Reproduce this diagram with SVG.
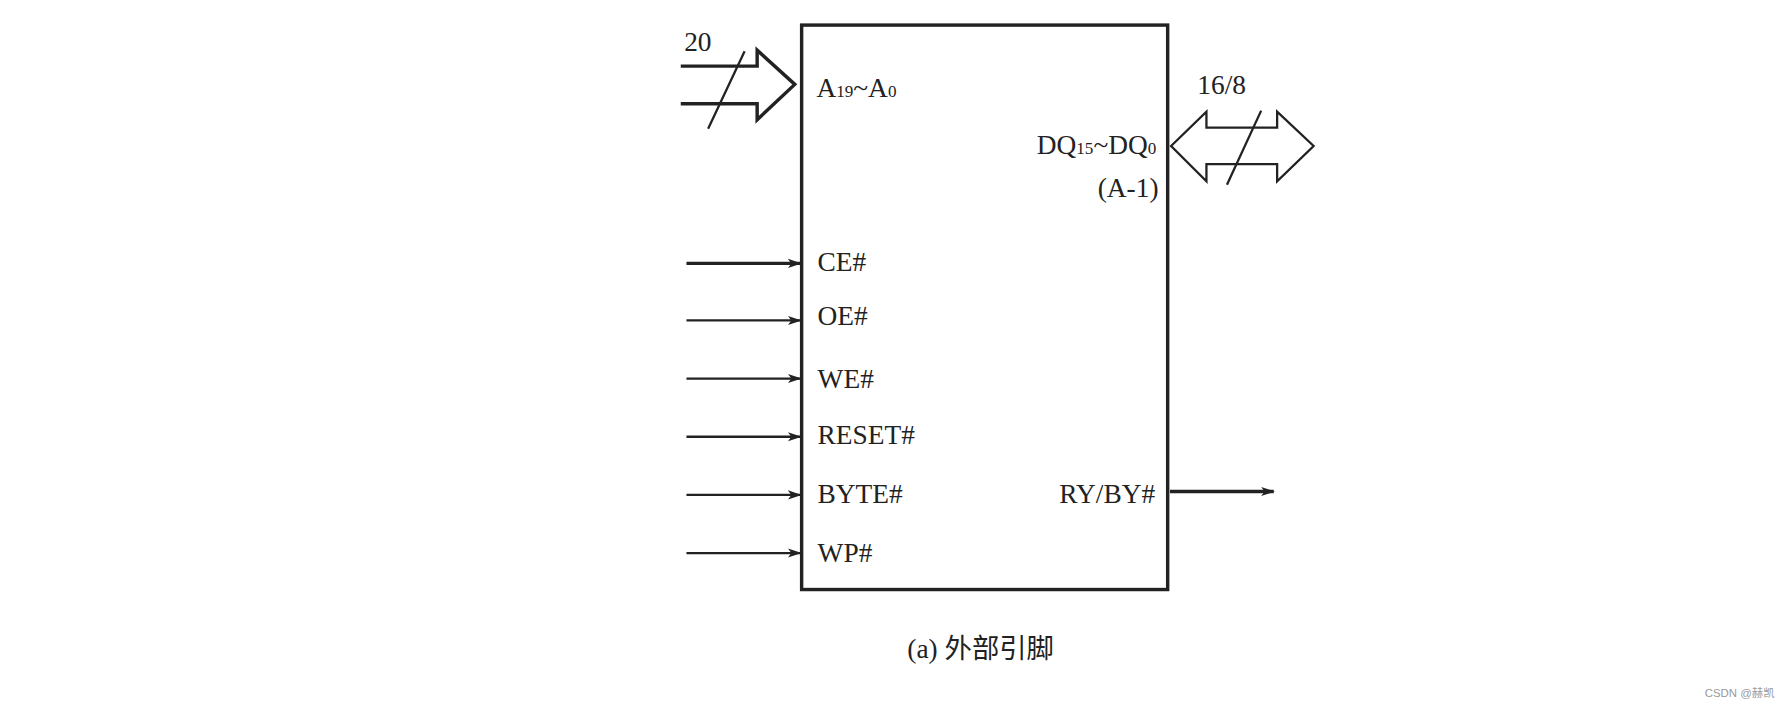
<svg xmlns="http://www.w3.org/2000/svg" width="1788" height="708" viewBox="0 0 1788 708">
<style>
text{font-family:"Liberation Serif","Noto Sans CJK SC",serif;fill:#222;font-size:24px}
.l{stroke:#222;stroke-width:2;fill:none}
.b{stroke:#222;stroke-width:3;fill:none}
</style>
<defs><marker id="ah" markerWidth="12" markerHeight="10" refX="11" refY="5" orient="auto" markerUnits="userSpaceOnUse"><path d="M0,1 L12,5 L0,9 L3,5Z" fill="#222"/></marker></defs>
<rect width="1788" height="708" fill="#fff"/>
<g transform="scale(1.1403)">
<g id="chip"><rect x="703" y="22" width="321" height="495" class="b"/>
<text x="716" y="85">A<tspan font-size="15">19</tspan>~A<tspan font-size="15">0</tspan></text>
<text x="1014" y="135" text-anchor="end">DQ<tspan font-size="15">15</tspan>~DQ<tspan font-size="15">0</tspan></text>
<text x="1016" y="173" text-anchor="end">(A-1)</text>
<text x="717" y="238">CE#</text><text x="717" y="285">OE#</text><text x="717" y="340">WE#</text>
<text x="717" y="389">RESET#</text><text x="717" y="441">BYTE#</text><text x="717" y="493">WP#</text>
<text x="1013" y="441" text-anchor="end">RY/BY#</text></g>
<g id="connectors">
<path class="b" d="M597,58 H664 V44 L697,74 L664,105 V91 H597"/>
<line class="l" x1="653" y1="45" x2="621" y2="113"/>
<text x="600" y="45">20</text>
<path class="l" d="M1027,128 L1058,98 V112 H1120 V98 L1152,128 L1120,159 V144 H1058 V159 Z"/>
<line class="l" x1="1106" y1="97" x2="1076" y2="162"/>
<text x="1050" y="82">16/8</text>
<line class="b" x1="602" y1="231" x2="702" y2="231" marker-end="url(#ah)"/>
<line class="l" x1="602" y1="281" x2="702" y2="281" marker-end="url(#ah)"/>
<line class="l" x1="602" y1="332" x2="702" y2="332" marker-end="url(#ah)"/>
<line class="l" x1="602" y1="383" x2="702" y2="383" marker-end="url(#ah)"/>
<line class="l" x1="602" y1="434" x2="702" y2="434" marker-end="url(#ah)"/>
<line class="l" x1="602" y1="485" x2="702" y2="485" marker-end="url(#ah)"/>
<line class="b" x1="1026" y1="431" x2="1117" y2="431" marker-end="url(#ah)"/>
</g>
<text x="860" y="577" text-anchor="middle">(a) 外部引脚</text>
<text x="1495" y="611" style="font-family:'Liberation Sans','Noto Sans CJK SC',sans-serif;font-size:10px;fill:#999">CSDN @赫凯</text>
</g>
</svg>
